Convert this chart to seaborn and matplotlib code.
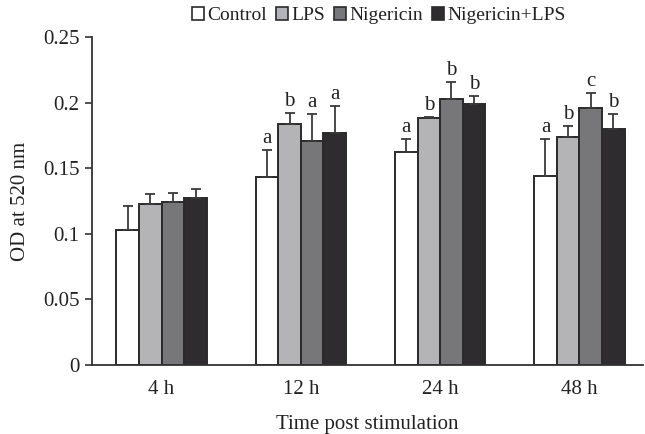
import matplotlib
matplotlib.use("Agg")
import matplotlib.pyplot as plt
from matplotlib.patches import Patch
from matplotlib.font_manager import FontProperties
import seaborn as sns
import pandas as pd

times = ["4 h", "12 h", "24 h", "48 h"]
groups = ["Control", "LPS", "Nigericin", "Nigericin+LPS"]
control = [0.103, 0.143, 0.162, 0.144]
lps = [0.123, 0.184, 0.188, 0.174]
nigericin = [0.124, 0.171, 0.203, 0.196]
nig_lps = [0.127, 0.177, 0.199, 0.180]
err_control = [0.018, 0.021, 0.010, 0.028]
err_lps = [0.007, 0.008, 0.001, 0.008]
err_nigericin = [0.007, 0.020, 0.013, 0.011]
err_nig_lps = [0.007, 0.020, 0.006, 0.011]
letters_control = ["", "a", "a", "a"]
letters_lps = ["", "b", "b", "b"]
letters_nigericin = ["", "a", "b", "c"]
letters_nig_lps = ["", "a", "b", "b"]

colors = ["#ffffff", "#b3b4b8", "#76777b", "#2e2c2f"]
edge = "#2b2a2b"

vals = [control, lps, nigericin, nig_lps]
errs = [err_control, err_lps, err_nigericin, err_nig_lps]
lets = [letters_control, letters_lps, letters_nigericin, letters_nig_lps]

rows = []
for g, v, e, l in zip(groups, vals, errs, lets):
    for t, vv, ee, ll in zip(times, v, e, l):
        rows.append({"time": t, "group": g, "value": vv, "err": ee, "letter": ll})
df = pd.DataFrame(rows)

sns.set_style("white")
SERIF = ["Liberation Serif", "DejaVu Serif"]
plt.rcParams["font.family"] = SERIF
FS = 15

fig = plt.figure(figsize=(6.45, 4.34), dpi=100)
ax = fig.add_axes([0.1426, 0.159, 0.855, 0.756])

sns.barplot(data=df, x="time", y="value", hue="group", hue_order=groups,
            order=times, palette=colors, edgecolor=edge, linewidth=1.4,
            width=0.65, errorbar=None, legend=False, ax=ax, zorder=2)

bar_containers = list(ax.containers)
for gi, cont in enumerate(bar_containers):
    sub = df[df.group == groups[gi]].set_index("time").loc[times]
    for bar, (t, r) in zip(cont, sub.iterrows()):
        x = bar.get_x() + bar.get_width() / 2
        h = bar.get_height()
        ax.errorbar([x], [h], yerr=[[0], [r.err]], fmt="none", ecolor="#3a3a3a",
                    elinewidth=1.3, capsize=3.5, capthick=1.3, zorder=3)
        if r.letter:
            ax.text(x, h + r.err + 0.0015, r.letter, ha="center", va="bottom",
                    fontsize=FS, color="#222222", family=SERIF)

ax.set_ylim(0, 0.25)
ax.set_xlim(-0.5, 3.46)
ax.set_yticks([0, 0.05, 0.1, 0.15, 0.2, 0.25])
ax.set_yticklabels(["0", "0.05", "0.1", "0.15", "0.2", "0.25"])
ax.tick_params(axis="y", which="both", left=True, length=5, width=1.2,
               color="#333333", labelsize=FS, pad=4, labelcolor="#222222")
ax.tick_params(axis="x", bottom=False, labelsize=FS, pad=7, labelcolor="#222222")
for s in ["top", "right"]:
    ax.spines[s].set_visible(False)
for s in ["left", "bottom"]:
    ax.spines[s].set_color("#333333")
    ax.spines[s].set_linewidth(1.3)
ax.set_ylabel("OD at 520 nm", fontsize=FS, color="#222222", labelpad=9)
ax.set_xlabel("Time post stimulation", fontsize=FS, color="#222222", labelpad=12)

handles = [Patch(facecolor=c, edgecolor=edge, linewidth=1.2, label=g)
           for c, g in zip(colors, groups)]
leg = fig.legend(handles=handles, loc="center", bbox_to_anchor=(0.587, 0.965), ncol=4,
                 frameon=False, prop=FontProperties(family=SERIF, size=14),
                 handlelength=0.65, handleheight=0.65,
                 handletextpad=0.15, columnspacing=0.45, borderaxespad=0)
for t in leg.get_texts():
    t.set_color("#222222")

fig.savefig("out.png", dpi=100)
